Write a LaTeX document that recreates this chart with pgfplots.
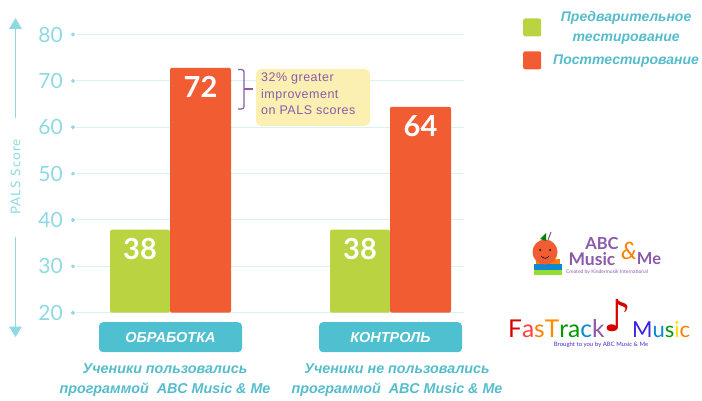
\documentclass[border=0pt]{standalone}
\usepackage{fontspec}
\setmainfont{Lato}
\newfontfamily\lib{Liberation Sans}
\newfontfamily\djv{DejaVu Sans}
\usepackage{pgfplots}
\pgfplotsset{compat=1.18}
\definecolor{tealL}{HTML}{8FD9E2}
\definecolor{gridC}{HTML}{D8F2F6}
\definecolor{btn}{HTML}{4FC0CF}
\definecolor{tealT}{HTML}{55BCCC}
\definecolor{greenB}{HTML}{B9D440}
\definecolor{redB}{HTML}{F25C33}
\definecolor{callout}{HTML}{FBF0B2}
\definecolor{purp}{HTML}{8C5AA8}
\begin{document}
\begin{tikzpicture}
\path[use as bounding box] (0pt,0pt) rectangle (702pt,400pt);
\begin{axis}[
  at={(76pt,87.3pt)}, anchor=south west,
  scale only axis, width=388pt, height=278.2pt,
  xmin=76, xmax=464, ymin=20, ymax=80,
  clip=false, axis line style={draw=none},
  ymajorgrids, grid style={gridC, line width=1pt},
  ytick={20,30,40,50,60,70,80},
  major tick length=0pt,
  /pgf/number format/assume math mode=true,
  yticklabel style={font=\fontsize{21}{21}\selectfont, text=tealL, inner sep=0pt, xshift=-13pt},
  xtick={170.5,390.5},
  xticklabels={ОБРАБОТКА,КОНТРОЛЬ},
  xticklabel style={font=\lib\fontsize{14.5}{15}\selectfont\bfseries\itshape, text=white, fill=btn,
    rounded corners=4pt, minimum width=143pt, minimum height=30pt, inner sep=0pt, anchor=north, yshift=-9.3pt},
  legend style={draw=none, fill=none, at={(axis cs:523,85.4)}, anchor=north west, inner sep=0pt,
    font=\lib\fontsize{14}{20}\selectfont\bfseries\itshape, text=tealT,
    nodes={align=center}, row sep=6pt, column sep=10pt},
  legend cell align=center,
  legend image code/.code={\fill[#1] (0pt,-9pt) rectangle (18pt,9pt);},
  nodes near coords, point meta=explicit symbolic,
  every node near coord/.style={font=\fontsize{29}{29}\selectfont\bfseries, text=white, anchor=north, inner sep=0pt, yshift=-8pt},
]
\addplot[only marks, color=tealL, mark=*, mark size=1.8pt, mark options={fill=tealL, draw=tealL}, nodes near coords={}, forget plot]
  coordinates {(73,20)(73,30)(73,40)(73,50)(73,60)(73,70)(73,80)};
\addplot[ybar, bar width=60, bar shift=0pt, draw=none, fill=greenB, rounded corners=2pt]
  table[meta=label] {
x y label
140 37.9 38
360 37.9 38
};
\addlegendentry{Предварительное\\тестирование}
\addplot[ybar, bar width=61, bar shift=0pt, draw=none, fill=redB, rounded corners=2pt]
  table[meta=label] {
x y label
200.5 72.8 72
420.5 64.4 64
};
\addlegendentry{Посттестирование}
\end{axis}
\begin{scope}[x=1pt,y=-1pt,shift={(0pt,400pt)}]
% y axis title and arrows
\draw[tealL, line width=1pt] (15.5,28) -- (15.5,118);
\fill[tealL] (15.5,18) -- (22,29) -- (9,29) -- cycle;
\draw[tealL, line width=1pt] (15.5,237) -- (15.5,328);
\fill[tealL] (15.5,337) -- (22,326.5) -- (9,326.5) -- cycle;
\node[rotate=90, text=tealL, font=\fontsize{13.5}{14}\selectfont\addfontfeature{LetterSpace=8}] at (15.5,177) {PALS Score};
% callout
\fill[callout, rounded corners=5pt] (256,69) rectangle (370,126);
\draw[purp, line width=1.2pt, rounded corners=2.5pt] (238,69.5) -- (244,69.5) -- (244,109) -- (238,109);
\draw[purp, line width=1.2pt] (244,89) -- (253,89);
\node[anchor=north west, align=left, text=purp, inner sep=0pt, font=\lib\fontsize{12.5}{16.5}\selectfont\addfontfeature{LetterSpace=4}] at (261,73) {32\% greater\\improvement\\on PALS scores};
% descriptions
\node[text=tealT, align=center, font=\lib\fontsize{14.3}{20.5}\selectfont\bfseries\itshape] at (165,380) {Ученики пользовались\\программой \ ABC Music \& Me};
\node[text=tealT, align=center, font=\lib\fontsize{14.3}{20.5}\selectfont\bfseries\itshape] at (397,380) {Ученики не пользовались\\программой \ ABC Music \& Me};
% ABC logo
\fill[greenB!80!green] (534,270) rectangle (562,275);
\fill[cyan!70!blue] (534,264) rectangle (562,269.5);
\fill[orange] (536,259) rectangle (560,263.5);
\fill[redB] (545,252) circle (12.5);
\fill[green!50!black] (540,239) -- (546,233) -- (546,241) -- cycle;
\draw[black!60, line width=1pt] (548,240) -- (551,232);
\fill[black] (540,250) circle (1) (550,250) circle (1);
\draw[black, line width=.6pt] (541,256) .. controls (544,259) and (547,259) .. (549,256);
\node[text=purp, font=\fontsize{16.5}{17}\selectfont\bfseries, inner sep=0pt] at (602,244) {ABC};
\node[text=purp, font=\fontsize{17.5}{17}\selectfont\bfseries, inner sep=0pt] at (592,259) {Music};
\node[text=orange, font=\fontsize{24}{24}\selectfont\itshape, inner sep=0pt] at (629,251) {\&};
\node[text=purp, font=\fontsize{16.5}{17}\selectfont\bfseries, inner sep=0pt] at (649,259) {Me};
\node[text=purp, font=\fontsize{5}{6}\selectfont, inner sep=0pt] at (607,272) {Created by Kindermusik International};
% FasTrack logo
\node[anchor=base west, inner sep=0pt, font=\fontsize{24.5}{26}\selectfont] at (508,337) {\textcolor{red!85!black}{F}\textcolor{red!75}{a}\textcolor{orange}{s}\textcolor{orange!90!yellow}{T}\textcolor{green!60!black}{r}\textcolor{green!60!black}{a}\textcolor{cyan!70!blue}{c}\textcolor{purp}{k}};
\node[text=red!85!black, font=\djv\fontsize{44}{44}\selectfont, inner sep=0pt] at (618,316) {♪};
\node[anchor=base west, inner sep=0pt, font=\fontsize{22}{22}\selectfont] at (632,337) {\textcolor{blue!60!purp}{M}\textcolor{cyan!70!blue}{u}\textcolor{green!60!black}{s}\textcolor{yellow!80!orange}{i}\textcolor{orange}{c}};
\node[text=blue!50!purp, font=\fontsize{6}{6}\selectfont, inner sep=0pt] at (601,345) {Brought to you by ABC Music \& Me};
\end{scope}
\end{tikzpicture}
\end{document}
